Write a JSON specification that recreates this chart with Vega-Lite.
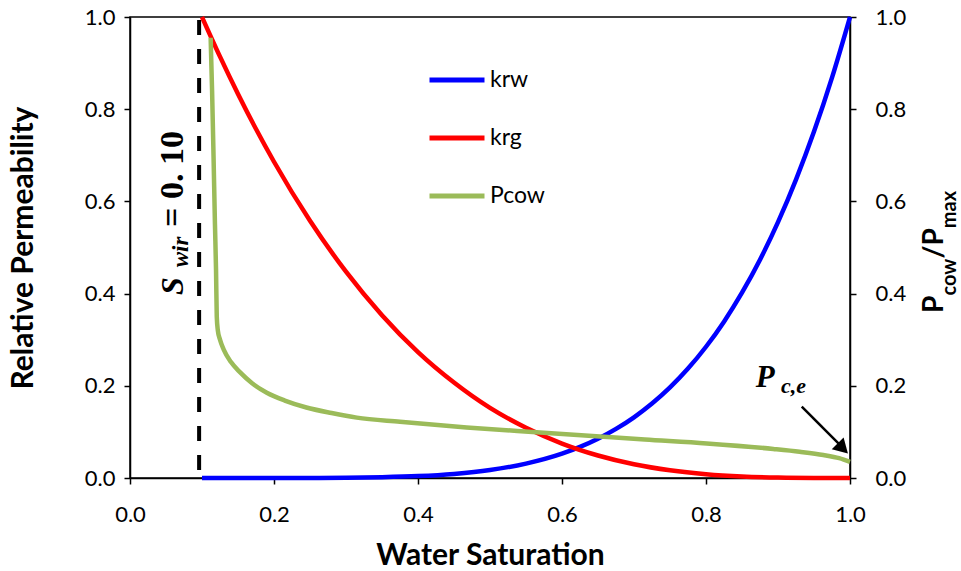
{
  "$schema": "https://vega.github.io/schema/vega-lite/v6.json",
  "width": 720,
  "height": 461,
  "autosize": {"type": "none"},
  "padding": {"left": 130, "top": 17, "right": 111, "bottom": 93},
  "background": "white",
  "config": {
    "view": {"stroke": "black", "strokeWidth": 1.5},
    "font": "Lato",
    "axis": {
      "domainColor": "black", "domainWidth": 1.5,
      "tickColor": "black", "tickWidth": 1.5, "tickSize": 6,
      "labelFont": "Lato", "labelFontSize": 22, "labelColor": "black",
      "labelFlush": false, "labelOverlap": false,
      "titleFont": "Lato", "titleFontWeight": "bold", "titleFontSize": 28, "titleColor": "black",
      "grid": false
    }
  },
  "datasets": {
    "curves": [
      {"series": "krw", "sw": 0.1, "val": 0},
      {"series": "krw", "sw": 0.2, "val": 0.00002},
      {"series": "krw", "sw": 0.25, "val": 0.0002},
      {"series": "krw", "sw": 0.3, "val": 0.0005},
      {"series": "krw", "sw": 0.35, "val": 0.0017},
      {"series": "krw", "sw": 0.4, "val": 0.0041},
      {"series": "krw", "sw": 0.45, "val": 0.0089},
      {"series": "krw", "sw": 0.5, "val": 0.0173},
      {"series": "krw", "sw": 0.55, "val": 0.0313},
      {"series": "krw", "sw": 0.6, "val": 0.0529},
      {"series": "krw", "sw": 0.625, "val": 0.0675},
      {"series": "krw", "sw": 0.65, "val": 0.0852},
      {"series": "krw", "sw": 0.675, "val": 0.1065},
      {"series": "krw", "sw": 0.7, "val": 0.1317},
      {"series": "krw", "sw": 0.725, "val": 0.1615},
      {"series": "krw", "sw": 0.75, "val": 0.1965},
      {"series": "krw", "sw": 0.775, "val": 0.2373},
      {"series": "krw", "sw": 0.8, "val": 0.2847},
      {"series": "krw", "sw": 0.825, "val": 0.3392},
      {"series": "krw", "sw": 0.85, "val": 0.4019},
      {"series": "krw", "sw": 0.875, "val": 0.4735},
      {"series": "krw", "sw": 0.9, "val": 0.5549},
      {"series": "krw", "sw": 0.925, "val": 0.6473},
      {"series": "krw", "sw": 0.95, "val": 0.7514},
      {"series": "krw", "sw": 0.975, "val": 0.8686},
      {"series": "krw", "sw": 1.0, "val": 1.0},
      {"series": "krg", "sw": 0.1, "val": 1.0},
      {"series": "krg", "sw": 0.125, "val": 0.914},
      {"series": "krg", "sw": 0.15, "val": 0.833},
      {"series": "krg", "sw": 0.175, "val": 0.757},
      {"series": "krg", "sw": 0.2, "val": 0.686},
      {"series": "krg", "sw": 0.25, "val": 0.558},
      {"series": "krg", "sw": 0.3, "val": 0.4475},
      {"series": "krg", "sw": 0.35, "val": 0.353},
      {"series": "krg", "sw": 0.4, "val": 0.273},
      {"series": "krg", "sw": 0.45, "val": 0.207},
      {"series": "krg", "sw": 0.5, "val": 0.152},
      {"series": "krg", "sw": 0.55, "val": 0.109},
      {"series": "krg", "sw": 0.6, "val": 0.0747},
      {"series": "krg", "sw": 0.65, "val": 0.0488},
      {"series": "krg", "sw": 0.7, "val": 0.0297},
      {"series": "krg", "sw": 0.75, "val": 0.0166},
      {"series": "krg", "sw": 0.8, "val": 0.0081},
      {"series": "krg", "sw": 0.85, "val": 0.0032},
      {"series": "krg", "sw": 0.9, "val": 0.0009},
      {"series": "krg", "sw": 0.95, "val": 0.0001},
      {"series": "krg", "sw": 1.0, "val": 0},
      {"series": "Pcow", "sw": 0.112, "val": 0.955},
      {"series": "Pcow", "sw": 0.114, "val": 0.84},
      {"series": "Pcow", "sw": 0.116, "val": 0.7},
      {"series": "Pcow", "sw": 0.118, "val": 0.55},
      {"series": "Pcow", "sw": 0.1195, "val": 0.45},
      {"series": "Pcow", "sw": 0.1205, "val": 0.35},
      {"series": "Pcow", "sw": 0.122, "val": 0.32},
      {"series": "Pcow", "sw": 0.125, "val": 0.3},
      {"series": "Pcow", "sw": 0.13, "val": 0.279},
      {"series": "Pcow", "sw": 0.14, "val": 0.252},
      {"series": "Pcow", "sw": 0.153, "val": 0.229},
      {"series": "Pcow", "sw": 0.17, "val": 0.205},
      {"series": "Pcow", "sw": 0.19, "val": 0.185},
      {"series": "Pcow", "sw": 0.215, "val": 0.168},
      {"series": "Pcow", "sw": 0.245, "val": 0.153},
      {"series": "Pcow", "sw": 0.28, "val": 0.141},
      {"series": "Pcow", "sw": 0.315, "val": 0.131},
      {"series": "Pcow", "sw": 0.375, "val": 0.122},
      {"series": "Pcow", "sw": 0.4676, "val": 0.1097},
      {"series": "Pcow", "sw": 0.5694, "val": 0.0988},
      {"series": "Pcow", "sw": 0.6528, "val": 0.09},
      {"series": "Pcow", "sw": 0.715, "val": 0.0835},
      {"series": "Pcow", "sw": 0.801, "val": 0.075},
      {"series": "Pcow", "sw": 0.8935, "val": 0.063},
      {"series": "Pcow", "sw": 0.93, "val": 0.057},
      {"series": "Pcow", "sw": 0.963, "val": 0.05},
      {"series": "Pcow", "sw": 0.985, "val": 0.043},
      {"series": "Pcow", "sw": 1.0, "val": 0.035}
    ]
  },
  "layer": [
    {
      "data": {"name": "curves"},
      "transform": [{"filter": "datum.series !== 'Pcow'"}],
      "mark": {"type": "line", "strokeWidth": 4.5, "interpolate": "monotone", "strokeCap": "butt"},
      "encoding": {
        "x": {"field": "sw", "type": "quantitative", "scale": {"domain": [0, 1], "nice": false},
          "axis": {"orient": "bottom", "values": [0, 0.2, 0.4, 0.6, 0.8, 1], "format": ".1f", "title": "Water Saturation",
            "labelPadding": 20, "titlePadding": 15, "titleFontSize": 30,
            "encode": {"ticks": {"update": {"y": {"value": -6}}}}}},
        "y": {"field": "val", "type": "quantitative", "scale": {"domain": [0, 1], "nice": false},
          "axis": {"orient": "left", "values": [0, 0.2, 0.4, 0.6, 0.8, 1], "format": ".1f", "title": "Relative Permeability",
            "labelPadding": 9, "titlePadding": 46, "titleFontSize": 30,
            "encode": {"ticks": {"update": {"x": {"value": 6}}}}}},
        "color": {"field": "series", "type": "nominal",
          "scale": {"domain": ["krw", "krg", "Pcow"], "range": ["#0000FF", "#FF0000", "#9BBB59"]},
          "legend": {"orient": "none", "legendX": 297, "legendY": 33, "title": null, "symbolType": "stroke",
            "symbolSize": 3025, "symbolStrokeWidth": 5, "labelFontSize": 23, "labelFont": "Lato",
            "labelColor": "black", "rowPadding": 16, "labelOffset": 3, "padding": 0}},
        "detail": {"field": "series"}
      }
    },
    {
      "data": {"name": "curves"},
      "transform": [{"filter": "datum.series === 'Pcow'"}],
      "mark": {"type": "line", "strokeWidth": 4.5, "interpolate": "monotone", "strokeCap": "butt"},
      "encoding": {
        "x": {"field": "sw", "type": "quantitative", "scale": {"domain": [0, 1], "nice": false}, "axis": null},
        "y": {"field": "val", "type": "quantitative", "scale": {"domain": [0, 1], "nice": false},
          "axis": {"orient": "right", "values": [0, 0.2, 0.4, 0.6, 0.8, 1], "format": ".1f", "title": null,
            "labelPadding": 19,
            "encode": {"ticks": {"update": {"x": {"value": -6}}}}}},
        "color": {"field": "series", "type": "nominal",
          "scale": {"domain": ["krw", "krg", "Pcow"], "range": ["#0000FF", "#FF0000", "#9BBB59"]}}
      }
    },
    {
      "data": {"values": [{"swir": 0.096}]},
      "mark": {"type": "rule", "color": "black", "strokeWidth": 4, "strokeDash": [15, 14], "strokeDashOffset": 26},
      "encoding": {
        "x": {"field": "swir", "type": "quantitative", "scale": {"domain": [0, 1], "nice": false}, "axis": null},
        "y": {"datum": 1, "type": "quantitative", "scale": {"domain": [0, 1], "nice": false}, "axis": null},
        "y2": {"datum": 0}
      }
    },
    {
      "data": {"values": [{"a": 1}]},
      "mark": {"type": "rule", "color": "black", "strokeWidth": 2.5},
      "encoding": {
        "x": {"datum": 0.933, "type": "quantitative", "scale": {"domain": [0, 1], "nice": false}, "axis": null},
        "y": {"datum": 0.155, "type": "quantitative", "scale": {"domain": [0, 1], "nice": false}, "axis": null},
        "x2": {"datum": 0.986},
        "y2": {"datum": 0.072}
      }
    },
    {
      "data": {"values": [{"a": 1}]},
      "mark": {"type": "point", "shape": "triangle-up", "filled": true, "color": "black", "opacity": 1, "size": 280, "angle": 135},
      "encoding": {
        "x": {"datum": 0.99, "type": "quantitative", "scale": {"domain": [0, 1], "nice": false}, "axis": null},
        "y": {"datum": 0.064, "type": "quantitative", "scale": {"domain": [0, 1], "nice": false}, "axis": null}
      }
    },
    {
      "data": {"values": [{"label": "P"}]},
      "mark": {"type": "text", "font": "Liberation Serif", "fontWeight": "bold", "fontStyle": "italic", "fontSize": 31, "align": "left", "baseline": "alphabetic", "color": "black"},
      "encoding": {
        "x": {"datum": 0.869, "type": "quantitative", "scale": {"domain": [0, 1], "nice": false}, "axis": null},
        "y": {"datum": 0.198, "type": "quantitative", "scale": {"domain": [0, 1], "nice": false}, "axis": null},
        "text": {"field": "label"}
      }
    },
    {
      "data": {"values": [{"label": "c,e"}]},
      "mark": {"type": "text", "font": "Liberation Serif", "fontWeight": "bold", "fontStyle": "italic", "fontSize": 22, "align": "left", "baseline": "alphabetic", "color": "black"},
      "encoding": {
        "x": {"datum": 0.904, "type": "quantitative", "scale": {"domain": [0, 1], "nice": false}, "axis": null},
        "y": {"datum": 0.185, "type": "quantitative", "scale": {"domain": [0, 1], "nice": false}, "axis": null},
        "text": {"field": "label"}
      }
    },
    {
      "data": {"values": [{"label": "S"}]},
      "mark": {"type": "text", "angle": 270, "font": "Liberation Serif", "fontWeight": "bold", "fontStyle": "italic", "fontSize": 32, "align": "left", "baseline": "alphabetic", "color": "black"},
      "encoding": {
        "x": {"datum": 0.0736, "type": "quantitative", "scale": {"domain": [0, 1], "nice": false}, "axis": null},
        "y": {"datum": 0.397, "type": "quantitative", "scale": {"domain": [0, 1], "nice": false}, "axis": null},
        "text": {"field": "label"}
      }
    },
    {
      "data": {"values": [{"label": "wir"}]},
      "mark": {"type": "text", "angle": 270, "font": "Liberation Serif", "fontWeight": "bold", "fontStyle": "italic", "fontSize": 23, "align": "left", "baseline": "alphabetic", "color": "black"},
      "encoding": {
        "x": {"datum": 0.0806, "type": "quantitative", "scale": {"domain": [0, 1], "nice": false}, "axis": null},
        "y": {"datum": 0.457, "type": "quantitative", "scale": {"domain": [0, 1], "nice": false}, "axis": null},
        "text": {"field": "label"}
      }
    },
    {
      "data": {"values": [{"label": "= 0. 10"}]},
      "mark": {"type": "text", "angle": 270, "font": "Liberation Serif", "fontWeight": "bold", "fontSize": 34, "align": "left", "baseline": "alphabetic", "color": "black"},
      "encoding": {
        "x": {"datum": 0.0736, "type": "quantitative", "scale": {"domain": [0, 1], "nice": false}, "axis": null},
        "y": {"datum": 0.5445, "type": "quantitative", "scale": {"domain": [0, 1], "nice": false}, "axis": null},
        "text": {"field": "label"}
      }
    },
    {
      "data": {"values": [{"label": "P"}]},
      "mark": {"type": "text", "angle": 270, "font": "Lato", "fontWeight": "bold", "fontSize": 28, "align": "left", "baseline": "alphabetic", "color": "black"},
      "encoding": {
        "x": {"datum": 1.129, "type": "quantitative", "scale": {"domain": [0, 1], "nice": false}, "axis": null},
        "y": {"datum": 0.358, "type": "quantitative", "scale": {"domain": [0, 1], "nice": false}, "axis": null},
        "text": {"field": "label"}
      }
    },
    {
      "data": {"values": [{"label": "cow"}]},
      "mark": {"type": "text", "angle": 270, "font": "Lato", "fontWeight": "bold", "fontSize": 20, "align": "left", "baseline": "alphabetic", "color": "black"},
      "encoding": {
        "x": {"datum": 1.147, "type": "quantitative", "scale": {"domain": [0, 1], "nice": false}, "axis": null},
        "y": {"datum": 0.396, "type": "quantitative", "scale": {"domain": [0, 1], "nice": false}, "axis": null},
        "text": {"field": "label"}
      }
    },
    {
      "data": {"values": [{"label": "/P"}]},
      "mark": {"type": "text", "angle": 270, "font": "Lato", "fontWeight": "bold", "fontSize": 28, "align": "left", "baseline": "alphabetic", "color": "black"},
      "encoding": {
        "x": {"datum": 1.129, "type": "quantitative", "scale": {"domain": [0, 1], "nice": false}, "axis": null},
        "y": {"datum": 0.476, "type": "quantitative", "scale": {"domain": [0, 1], "nice": false}, "axis": null},
        "text": {"field": "label"}
      }
    },
    {
      "data": {"values": [{"label": "max"}]},
      "mark": {"type": "text", "angle": 270, "font": "Lato", "fontWeight": "bold", "fontSize": 20, "align": "left", "baseline": "alphabetic", "color": "black"},
      "encoding": {
        "x": {"datum": 1.147, "type": "quantitative", "scale": {"domain": [0, 1], "nice": false}, "axis": null},
        "y": {"datum": 0.542, "type": "quantitative", "scale": {"domain": [0, 1], "nice": false}, "axis": null},
        "text": {"field": "label"}
      }
    }
  ],
  "resolve": {"axis": {"x": "independent", "y": "independent"}}
}
